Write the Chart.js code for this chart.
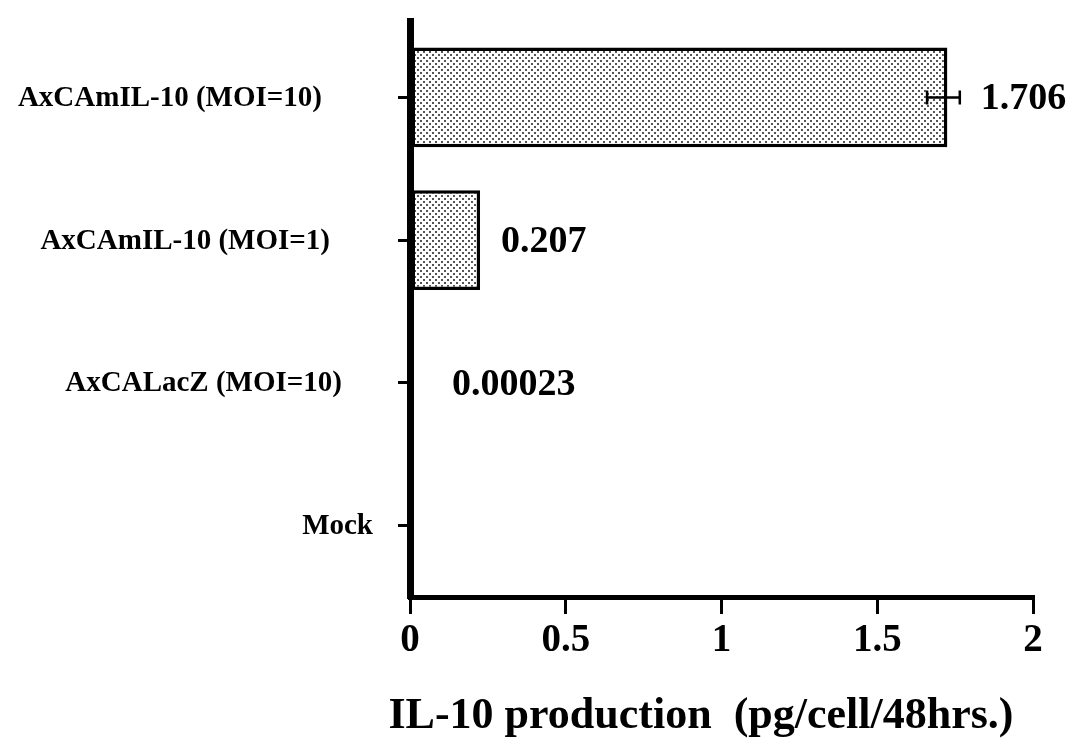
<!DOCTYPE html>
<html>
<head>
<meta charset="utf-8">
<script src="https://cdn.jsdelivr.net/npm/chart.js@4"></script>
<style>
  body { margin: 0; background: #fff; }
  #wrap { width: 1069px; height: 753px; }
</style>
</head>
<body>
<div id="wrap"><canvas id="chart" width="1069" height="753"></canvas></div>
<script>
// Chart data
const categories = ['AxCAmIL-10 (MOI=10)', 'AxCAmIL-10 (MOI=1)', 'AxCALacZ (MOI=10)', 'Mock'];
const values = [1.725, 0.225, 0.00023, 0];
const valueLabels = ['1.706', '0.207', '0.00023', ''];
const errLow = [1.66, null, null, null];
const errHigh = [1.765, null, null, null];
const xTicks = [0, 0.5, 1, 1.5, 2];
const axisTitle = 'IL-10 production  (pg/cell/48hrs.)';

// Layout bits for the hand drawn text
const labelRight = [322, 330, 342, 373];
const serif = '"Liberation Serif", "DejaVu Serif", serif';

// Stipple pattern for the bars
function makeStipple() {
    const c = document.createElement('canvas');
    c.width = 6;
    c.height = 6;
    const g = c.getContext('2d');
    g.fillStyle = '#fff';
    g.fillRect(0, 0, 6, 6);
    g.fillStyle = '#555';
    g.fillRect(0, 0, 2, 2);
    g.fillRect(3, 3, 2, 2);
    return g.createPattern(c, 'repeat');
}

// Text, error bar and axis extension
const extras = {
    id: 'extras',
    afterDraw(chart) {
        const ctx = chart.ctx;
        const x = chart.scales.x;
        const y = chart.scales.y;
        const area = chart.chartArea;
        ctx.save();

        // y axis sticks up a bit above the plot
        ctx.fillStyle = '#000';
        ctx.fillRect(area.left - 3, area.top - 8, 7, 10);

        // error bar
        ctx.strokeStyle = '#000';
        ctx.lineWidth = 2.5;
        errLow.forEach((lo, i) => {
            if (lo === null) return;
            const yc = y.getPixelForValue(i);
            const x1 = x.getPixelForValue(lo);
            const x2 = x.getPixelForValue(errHigh[i]);
            ctx.beginPath();
            ctx.moveTo(x1, yc);
            ctx.lineTo(x2, yc);
            ctx.moveTo(x1, yc - 7);
            ctx.lineTo(x1, yc + 7);
            ctx.moveTo(x2, yc - 7);
            ctx.lineTo(x2, yc + 7);
            ctx.stroke();
        });

        // value labels
        ctx.fillStyle = '#000';
        ctx.font = 'bold 38px ' + serif;
        ctx.textBaseline = 'middle';
        ctx.textAlign = 'left';
        valueLabels.forEach((txt, i) => {
            if (!txt) return;
            let end = x.getPixelForValue(values[i]);
            if (errHigh[i] !== null) end = Math.max(end, x.getPixelForValue(errHigh[i]));
            const lx = Math.max(end + 21, area.left + 42);
            ctx.fillText(txt, lx, y.getPixelForValue(i) + 2);
        });

        // category labels
        ctx.font = 'bold 29px ' + serif;
        ctx.textAlign = 'right';
        categories.forEach((cat, i) => {
            ctx.fillText(cat, labelRight[i], y.getPixelForValue(i) + 1);
        });

        // x axis title
        ctx.font = 'bold 44px ' + serif;
        ctx.textAlign = 'center';
        ctx.fillText(axisTitle, 701, 717);

        ctx.restore();
    }
};

document.addEventListener('DOMContentLoaded', function() {
    const ctx = document.getElementById('chart').getContext('2d');
    new Chart(ctx, {
        type: 'bar',
        data: {
            labels: categories,
            datasets: [{
                data: values,
                backgroundColor: makeStipple(),
                borderColor: '#000',
                borderWidth: 3.5,
                borderSkipped: false,
                barPercentage: 0.7,
                categoryPercentage: 1
            }]
        },
        options: {
            indexAxis: 'y',
            responsive: false,
            animation: false,
            layout: {
                padding: { left: 410, right: 36, top: 26, bottom: 0 }
            },
            plugins: {
                legend: { display: false },
                tooltip: { enabled: false }
            },
            scales: {
                x: {
                    min: 0,
                    max: 2,
                    afterFit: function(scale) { scale.height = 156; },
                    afterBuildTicks: function(scale) {
                        scale.ticks = xTicks.map(v => ({ value: v }));
                    },
                    ticks: {
                        color: '#000',
                        padding: 4,
                        font: { family: serif, size: 39, weight: 'bold' },
                        callback: v => String(v)
                    },
                    grid: {
                        drawOnChartArea: false,
                        drawTicks: true,
                        tickLength: 17,
                        color: '#000',
                        lineWidth: 3
                    },
                    border: { display: true, color: '#000', width: 5 }
                },
                y: {
                    afterFit: function(scale) { scale.width = 0; },
                    ticks: { display: false },
                    grid: {
                        offset: false,
                        drawOnChartArea: false,
                        drawTicks: true,
                        tickLength: 12,
                        color: '#000',
                        lineWidth: 3
                    },
                    border: { display: true, color: '#000', width: 7 }
                }
            }
        },
        plugins: [extras]
    });
});
</script>
</body>
</html>
